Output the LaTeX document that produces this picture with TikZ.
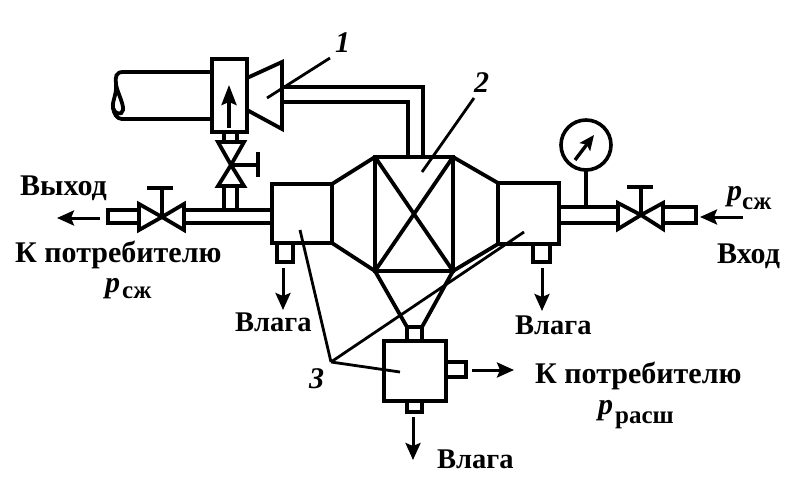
\documentclass[tikz,border=0pt]{standalone}
\usepackage{fontspec}
\setmainfont{Liberation Serif}
\usetikzlibrary{arrows.meta}

\begin{document}
\begin{tikzpicture}[x=1pt,y=-1pt,
    pipe/.style = {line width=3.8pt, line join=miter},
    box/.style = {draw=black, line width=3.8pt, inner sep=0pt, outer sep=0pt, anchor=north west},
    leader/.style = {line width=2.8pt},
    flow/.style = {line width=3pt, -{Stealth[length=17pt,width=15pt,inset=3pt]}},
    txt/.style = {inner sep=0pt, anchor=base west, font=\fontsize{30}{32}\selectfont\bfseries},
    wet/.style = {inner sep=0pt, anchor=base west, font=\fontsize{28.5}{30}\selectfont\bfseries},
    sub/.style = {inner sep=0pt, anchor=base west, font=\fontsize{25}{26}\selectfont\bfseries},
    num/.style = {inner sep=0pt, anchor=base west, font=\fontsize{30}{32}\selectfont\bfseries\itshape}]
    \useasboundingbox (0,0) rectangle (808,492);

    % boxes
    \node[box, minimum width=35pt, minimum height=73pt] (drive) at (212,59){};
    \node[box, minimum width=60pt, minimum height=59pt] (sepL) at (272,184){};
    \node[box, minimum width=61pt, minimum height=61pt] (sepR) at (498,183){};
    \node[box, minimum width=62pt, minimum height=60pt] (sepB) at (384,341){};
    \node[box, minimum width=78pt, minimum height=114pt] (filter) at (375,157){};

    % filter cross and cones
    \draw[pipe] (filter.north west) -- (filter.south east);
    \draw[pipe] (filter.north east) -- (filter.south west);
    \draw[pipe] (filter.north west) -- (sepL.north east);
    \draw[pipe] (filter.south west) -- (sepL.south east);
    \draw[pipe] (filter.north east) -- (sepR.north west);
    \draw[pipe] (filter.south east) -- (sepR.south west);

    % drains and stubs
    \node[box, line width=3.2pt, minimum width=16pt, minimum height=19pt] (drainL) at (277,243){};
    \node[box, line width=3.2pt, minimum width=17pt, minimum height=18pt] (drainR) at (533,244){};
    \node[box, line width=3.2pt, minimum width=15pt, minimum height=11pt] (drainB) at (407,401){};
    \node[box, line width=3.2pt, minimum width=15pt, minimum height=14pt] (neck) at (407,327){};
    \node[box, line width=3.2pt, minimum width=20pt, minimum height=15pt] (outB) at (446,362){};
    \node[box, line width=3.2pt, minimum width=31pt, minimum height=13pt] (stubL) at (108,210){};
    \node[box, line width=3.2pt, minimum width=33pt, minimum height=16pt] (stubR) at (663,207){};
    \draw[pipe] (filter.south west) -- (neck.north west);
    \draw[pipe] (filter.south east) -- (neck.north east);

    % turbine, body and feed pipe
    \draw[pipe] (drive.east |- 0,78) -- (282,62) -- (282,129) -- (drive.east |- 0,110);
    \draw[pipe] (drive.west |- 0,72) -- (123,72) .. controls (116,72) and (115,77) .. (116,84)
        .. controls (117,92) and (124,104) .. (123,110) .. controls (122,116) and (114,114) .. (113,108)
        .. controls (112,100) and (117,95) .. (116,84);
    \draw[pipe] (drive.west |- 0,119) -- (122,119) .. controls (117,119) and (114,114) .. (113,108);
    \draw[pipe] (282,87) -- (423,87) -- (423,157);
    \draw[pipe] (282,102) -- (408,102) -- (408,157);

    % small valve up to the drive
    \node[inner sep=0pt] (vU) at (231,165){};
    \draw[pipe] (224,132) -- (224,142) (237,132) -- (237,142);
    \draw[pipe] (vU.center) -- (218,142) -- (244,142) -- cycle;
    \draw[pipe] (vU.center) -- (218,186) -- (244,186) -- cycle;
    \draw[pipe] (vU.center) -- (258,165);
    \draw[pipe] (258,152) -- (258,177);
    \draw[pipe] (224,186) -- (224,210) (237,186) -- (237,210);

    % outlet pipe and valve
    \node[inner sep=0pt] (vL) at (162,217){};
    \draw[pipe] (vL.center) -- (139,204) -- (139,230) -- cycle;
    \draw[pipe] (vL.center) -- (184,204) -- (184,230) -- cycle;
    \draw[pipe] (vL.center) -- (162,188);
    \draw[pipe] (147,188) -- (173,188);
    \draw[pipe] (184,210) -- (sepL.west |- 0,210);
    \draw[pipe] (184,223) -- (sepL.west |- 0,223);

    % inlet pipe, valve and gauge
    \node[inner sep=0pt] (vR) at (641,215){};
    \draw[pipe] (vR.center) -- (618,203) -- (618,229) -- cycle;
    \draw[pipe] (vR.center) -- (663,203) -- (663,229) -- cycle;
    \draw[pipe] (vR.center) -- (641,187);
    \draw[pipe] (627,187) -- (653,187);
    \draw[pipe] (sepR.east |- 0,207) -- (618,207);
    \draw[pipe] (sepR.east |- 0,223) -- (618,223);
    \node[draw=black, circle, line width=3.6pt, outer sep=0pt, minimum size=50pt, inner sep=0pt] (gauge) at (586,145){};
    \draw[pipe] (gauge.south) -- (586,207);

    % arrows
    \draw[line width=3.4pt, -{Stealth[length=20pt,width=15pt,inset=3pt]}] (229,128) -- (229,85);
    \draw[line width=3.4pt, -{Stealth[length=15pt,width=13pt,inset=3pt]}] (575,160) -- (594,135);
    \draw[flow] (100,218) -- (57,218);
    \draw[flow] (743,217) -- (700,217);
    \draw[flow] (283,268) -- (283,310);
    \draw[flow] (542,268) -- (542,311);
    \draw[flow] (472,370) -- (514,370);
    \draw[flow] (413,417) -- (413,460);

    % leaders
    \coordinate (mark3) at (331,362);
    \draw[leader] (330,58) -- (267,98);
    \draw[leader] (474,98) -- (422,172);
    \draw[leader] (mark3) -- (300,230);
    \draw[leader] (mark3) -- (524,232);
    \draw[leader] (mark3) -- (400,372);

    % labels
    \node[num] (n1) at (335,53){1};
    \node[num] (n2) at (474,93){2};
    \node[num] (n3) at (309,388){3};
    \node[txt] (outlet) at (20,195){Выход};
    \node[txt] (userL) at (15,262){К потребителю};
    \node[num] (pL) at (105,292){p};
    \node[sub] (pLs) at (122,298){сж};
    \node[wet] (wetL) at (235,331){Влага};
    \node[wet] (wetR) at (515,334){Влага};
    \node[wet] (wetB) at (437,468){Влага};
    \node[num] (pR) at (727,200){p};
    \node[sub] (pRs) at (742,209){сж};
    \node[txt] (inlet) at (717,263){Вход};
    \node[txt] (userB) at (535,383){К потребителю};
    \node[num] (pB) at (598,414){p};
    \node[sub] (pBs) at (615,423){расш};
\end{tikzpicture}
\end{document}
